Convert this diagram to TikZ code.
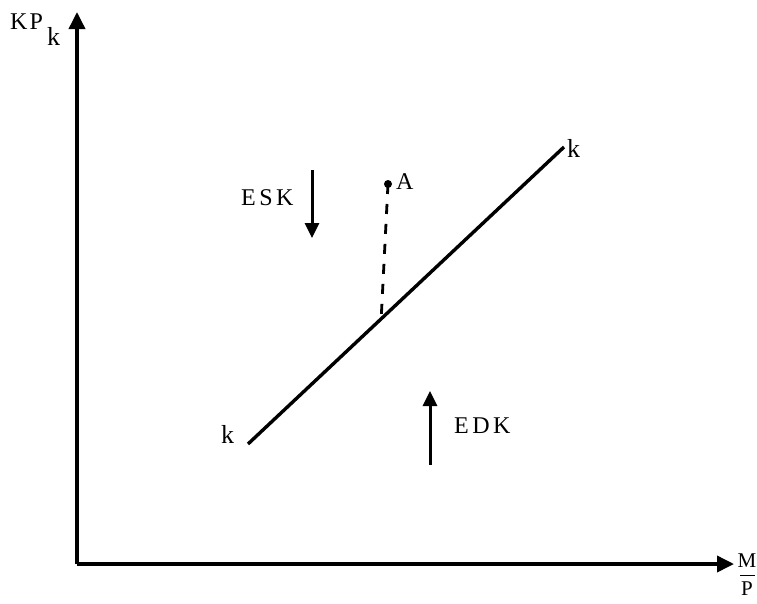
\documentclass[tikz,border=0pt]{standalone}
\usepackage{fontspec}
\setmainfont{Liberation Serif}
\usetikzlibrary{arrows.meta}
\begin{document}
\begin{tikzpicture}[x=1pt,y=-1pt,
  axis/.style={line width=3.6pt,-{Triangle[length=17pt,width=16pt]}},
  dirarrow/.style={line width=3pt,-{Triangle[length=15pt,width=14pt]}},
  kline/.style={line width=3.4pt},
  lbl/.style={font=\fontsize{24}{26}\selectfont,inner sep=0pt},
  fraclbl/.style={font=\fontsize{21}{23}\selectfont,inner sep=0pt},
  klbl/.style={font=\fontsize{26}{28}\selectfont,inner sep=0pt},
  dashline/.style={line width=2.8pt,dash pattern=on 10pt off 10pt}]
\useasboundingbox (0,0) rectangle (757,603);
\coordinate (O) at (77,564);
\coordinate (ytop) at (77,12);
\coordinate (xend) at (734,564);
\draw[axis] (O) -- (ytop);
\draw[axis] (O) -- (xend);
\node[lbl,anchor=base west] (kp) at (10,29) {K\kern2pt P};
\node[klbl,anchor=base west] (kpsub) at (47,45) {k};
\node[fraclbl,anchor=base] (mnum) at (747,567) {M};
\node[fraclbl,anchor=base] (pden) at (747,595) {P};
\draw[line width=1pt] (740,575) -- (755,575);
% k line
\coordinate (k1) at (248,444);
\coordinate (k2) at (564,147);
\draw[kline] (k1) -- (k2);
\node[klbl,anchor=base west] (kl) at (221,443) {k};
\node[klbl,anchor=base west] (kr) at (567,157) {k};
% point A
\coordinate (Ap) at (388,184);
\coordinate (Af) at (381,322);
\fill (Ap) circle (4pt);
\draw[dashline] (Ap) -- (Af);
\node[lbl,anchor=base west] (Al) at (396,189) {A};
% ESK
\node[lbl,anchor=base west] (esk) at (241,205) {E\kern3.5pt S\kern3.5pt K};
\coordinate (esk1) at (312,170);
\coordinate (esk2) at (312,238);
\draw[dirarrow] (esk1) -- (esk2);
% EDK
\coordinate (edk1) at (430,465);
\coordinate (edk2) at (430,391);
\draw[dirarrow] (edk1) -- (edk2);
\node[lbl,anchor=base west] (edk) at (454,433) {E\kern3.5pt D\kern3.5pt K};
\end{tikzpicture}
\end{document}
